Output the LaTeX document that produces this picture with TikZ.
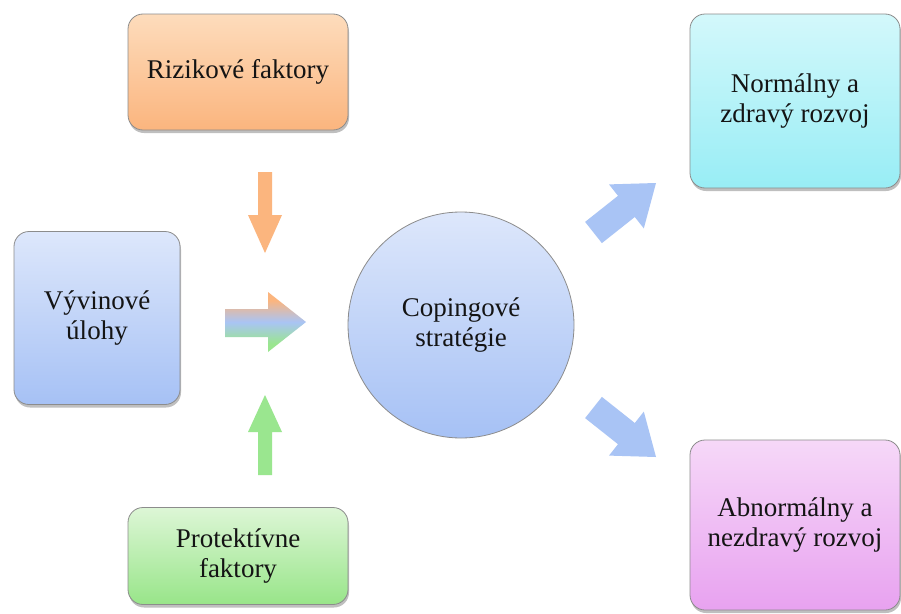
\documentclass[tikz,border=0pt]{standalone}
\usepackage{fontspec}
\setmainfont{Liberation Serif}
\usetikzlibrary{shadows}
\definecolor{txt}{HTML}{141414}
\definecolor{bordergray}{HTML}{8C8C8C}
\definecolor{orTop}{HTML}{FDDCBC}
\definecolor{orBot}{HTML}{FBB57E}
\definecolor{blTop}{HTML}{DDE7FB}
\definecolor{blBot}{HTML}{A6C1F5}
\definecolor{grTop}{HTML}{DDF6D6}
\definecolor{grBot}{HTML}{98E589}
\definecolor{cyTop}{HTML}{D3F8FB}
\definecolor{cyBot}{HTML}{98EDF5}
\definecolor{puTop}{HTML}{F6D8F8}
\definecolor{puBot}{HTML}{E8A2F0}
\definecolor{arrOr}{HTML}{FBB57E}
\definecolor{arrGr}{HTML}{9AE68F}
\definecolor{arrBl}{HTML}{A9C4F5}
\pgfdeclareverticalshading{triarrow}{100bp}{color(0bp)=(arrGr); color(32bp)=(arrGr); color(50bp)=(arrBl); color(68bp)=(arrOr); color(100bp)=(arrOr)}
\begin{document}
\begin{tikzpicture}[x=1pt,y=-1pt,
  box/.style={draw=bordergray, line width=0.8pt, rounded corners=15pt, inner sep=0pt,
    align=center, text=txt, font=\fontsize{27}{30}\selectfont,
    drop shadow={shadow xshift=1pt, shadow yshift=-3pt, opacity=0.25, fill=black}},
  circ/.style={circle, draw=bordergray, line width=0.8pt, inner sep=0pt,
    align=center, text=txt, font=\fontsize{27}{30}\selectfont}
]
\useasboundingbox (0,0) rectangle (901,613);
\fill[white] (0,0) rectangle (901,613);

\node[box, top color=orTop, bottom color=orBot, minimum width=220pt, minimum height=116pt] (riz) at (238,72) {Rizikové faktory};
\node[box, top color=blTop, bottom color=blBot, minimum width=166pt, minimum height=173pt] (vyv) at (97,318) {Vývinové\\úlohy};
\node[box, top color=grTop, bottom color=grBot, minimum width=220pt, minimum height=97pt] (pro) at (238,556) {Protektívne\\faktory};
\node[circ, top color=blTop, bottom color=blBot, minimum size=226pt] (cop) at (461,325) {Copingové\\stratégie};
\node[box, top color=cyTop, bottom color=cyBot, minimum width=210pt, minimum height=174pt] (nor) at (795,101) {Normálny a\\zdravý rozvoj};
\node[box, top color=puTop, bottom color=puBot, minimum width=210pt, minimum height=170pt] (abn) at (795,525) {Abnormálny a\\nezdravý rozvoj};

% down orange arrow
\fill[arrOr] (258,172) -- (272,172) -- (272,215) -- (282,215) -- (265,253) -- (248,215) -- (258,215) -- cycle;
% up green arrow
\fill[arrGr] (258,475) -- (272,475) -- (272,432) -- (282,432) -- (265,395) -- (248,432) -- (258,432) -- cycle;
% middle gradient arrow
\shade[shading=triarrow]
  (225,309) -- (268,309) -- (268,292) -- (306,322) -- (268,352) -- (268,337) -- (225,337) -- cycle;
% up-right arrow
\fill[arrBl] (585.1,221.9) -- (618.0,195.8) -- (609.0,184.4) -- (656,183) -- (643.8,228.4) -- (634.8,217.0) -- (601.9,243.1) -- cycle;
% down-right arrow
\fill[arrBl] (585.1,418.1) -- (618.0,444.2) -- (609.0,455.6) -- (656,457) -- (643.8,411.6) -- (634.8,423.0) -- (601.9,396.9) -- cycle;
\end{tikzpicture}
\end{document}
